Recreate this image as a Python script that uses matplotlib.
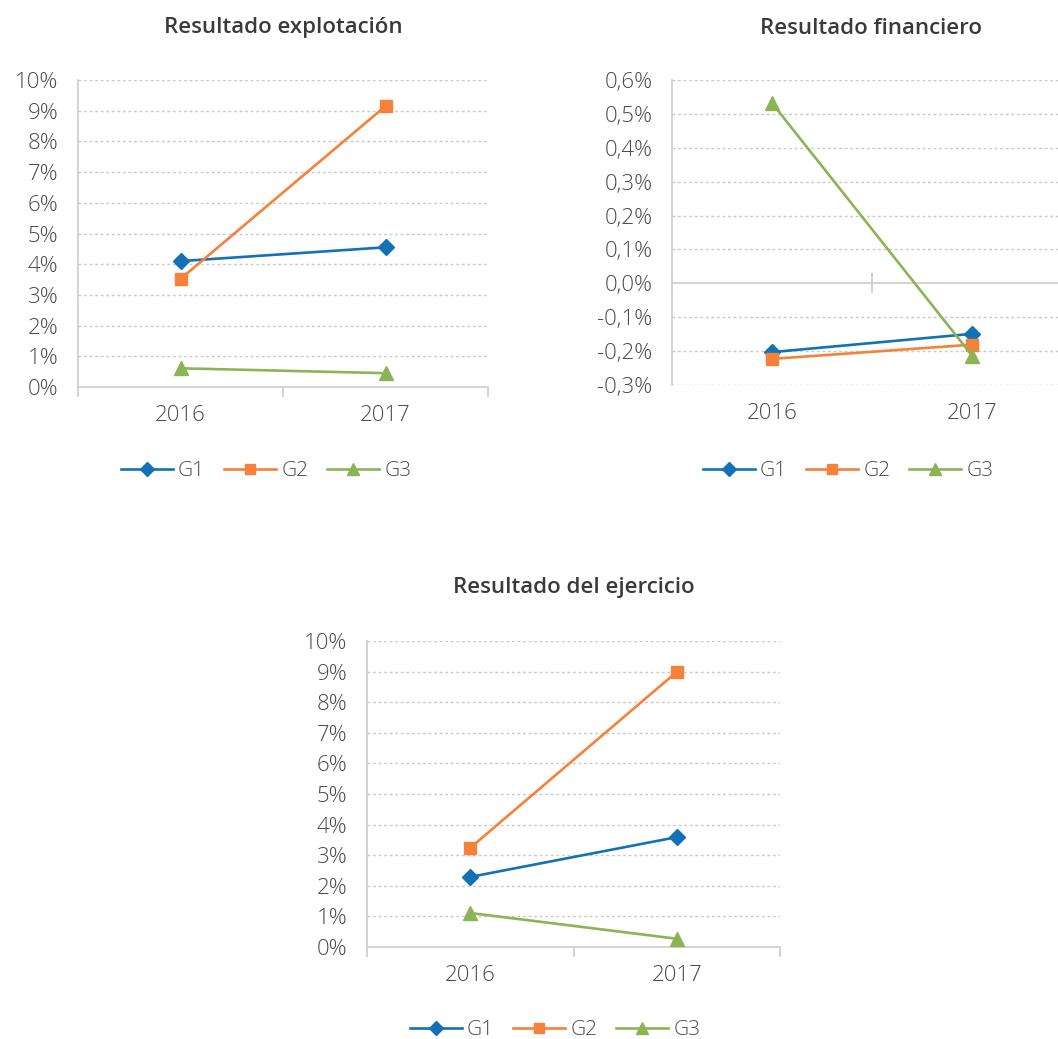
import matplotlib
matplotlib.use("Agg")
import matplotlib.pyplot as plt
from matplotlib.ticker import FixedLocator

plt.rcParams['font.family'] = ['Open Sans', 'DejaVu Sans']

# data (% values)
years = ["2016", "2017"]
series = ["G1", "G2", "G3"]

explot_g1 = [4.10, 4.55]
explot_g2 = [3.52, 9.15]
explot_g3 = [0.61, 0.45]

finan_g1 = [-0.203, -0.149]
finan_g2 = [-0.223, -0.181]
finan_g3 = [0.532, -0.213]

ejerc_g1 = [2.29, 3.59]
ejerc_g2 = [3.24, 8.99]
ejerc_g3 = [1.11, 0.27]

colors = ["#1372B6", "#F5813A", "#8CB455"]
markers = ["D", "s", "^"]
msizes = [8, 9, 10]

grid_col = "#C9C9C9"
axis_col = "#D0D0D0"
txt_col = "#4A4A4A"
title_col = "#3A3A3A"

W, H = 1058, 1039
fig = plt.figure(figsize=(W / 100, H / 100), dpi=100)


def fx(px):
    return px / W


def fy(py):
    return 1 - py / H


def make_panel(rect, title, title_xy, data, yticks, ylabels, legend_xy, zero_axis=False):
    ax = fig.add_axes(rect)
    x = list(range(len(years)))
    for vals, c, m, ms, name in zip(data, colors, markers, msizes, series):
        ax.plot(x, vals, color=c, lw=1.9, marker=m, markersize=ms, label=name,
                clip_on=False, zorder=3)
    ax.set_xlim(-0.5, 1.5)
    ax.set_ylim(yticks[0], yticks[-1])
    ax.set_yticks(yticks)
    ax.set_yticklabels(ylabels)
    for t in yticks:
        if zero_axis and abs(t) < 1e-9:
            continue
        if not zero_axis and t == yticks[0]:
            continue
        ax.axhline(t, color=grid_col, lw=1, ls=(0, (2, 2)), zorder=1)
    for s in ["top", "right"]:
        ax.spines[s].set_visible(False)
    ax.spines["left"].set_color(axis_col)
    ax.spines["left"].set_linewidth(1.3)
    ax.tick_params(axis="y", length=0, pad=14, labelsize=16, labelcolor=txt_col)
    # category labels
    ax.xaxis.set_major_locator(FixedLocator([-0.5, 0.5, 1.5]))
    ax.xaxis.set_minor_locator(FixedLocator(x))
    ax.set_xticklabels([], minor=False)
    ax.set_xticklabels(years, minor=True)
    ax.tick_params(axis="x", which="minor", length=0, pad=13, labelsize=16,
                   labelcolor=txt_col)
    for lab in ax.get_yticklabels() + ax.get_xticklabels(minor=True):
        lab.set_fontweight("light")
    if zero_axis:
        ax.spines["bottom"].set_visible(False)
        ax.tick_params(axis="x", which="major", length=0)
        frac = (0 - yticks[0]) / (yticks[-1] - yticks[0])
        sec = ax.secondary_xaxis(frac)
        sec.set_xticks([-0.5, 0.5, 1.5])
        sec.set_xticklabels([])
        sec.spines["bottom"].set_color(axis_col)
        sec.spines["bottom"].set_linewidth(1.3)
        sec.tick_params(axis="x", direction="inout", length=14, width=1.3,
                        color=axis_col)
    else:
        ax.spines["bottom"].set_color(axis_col)
        ax.spines["bottom"].set_linewidth(1.3)
        ax.tick_params(axis="x", which="major", length=7, width=1.3, color=axis_col)
    fig.text(fx(title_xy[0]), fy(title_xy[1]), title, ha="center", va="center",
             fontsize=16, fontweight="semibold", color=title_col)
    leg = fig.legend(*ax.get_legend_handles_labels(), loc="center",
                     bbox_to_anchor=(fx(legend_xy[0]), fy(legend_xy[1])), ncol=3,
                     frameon=False, fontsize=15, handlelength=2.5,
                     columnspacing=0.9, handletextpad=0.25, markerscale=0.85)
    for t in leg.get_texts():
        t.set_color(txt_col)
        t.set_fontweight("light")
    return ax


pct_ticks = [0, 1, 2, 3, 4, 5, 6, 7, 8, 9, 10]
pct_labels = ["%d%%" % v for v in pct_ticks]
fin_ticks = [-0.3, -0.2, -0.1, 0.0, 0.1, 0.2, 0.3, 0.4, 0.5, 0.6]
fin_labels = [("%.1f%%" % v).replace(".", ",") for v in fin_ticks]

make_panel([fx(78), fy(387), fx(410), fy(80) - fy(387)], "Resultado explotación",
           (283, 28), [explot_g1, explot_g2, explot_g3], pct_ticks, pct_labels,
           (266, 471))
make_panel([fx(672), fy(385), fx(400), fy(80) - fy(385)], "Resultado financiero",
           (871, 28), [finan_g1, finan_g2, finan_g3], fin_ticks, fin_labels,
           (848, 471), zero_axis=True)
make_panel([fx(367), fy(947), fx(413), fy(641) - fy(947)], "Resultado del ejercicio",
           (574, 588), [ejerc_g1, ejerc_g2, ejerc_g3], pct_ticks, pct_labels,
           (555, 1030))

fig.savefig("out.png", dpi=100, facecolor="white")
